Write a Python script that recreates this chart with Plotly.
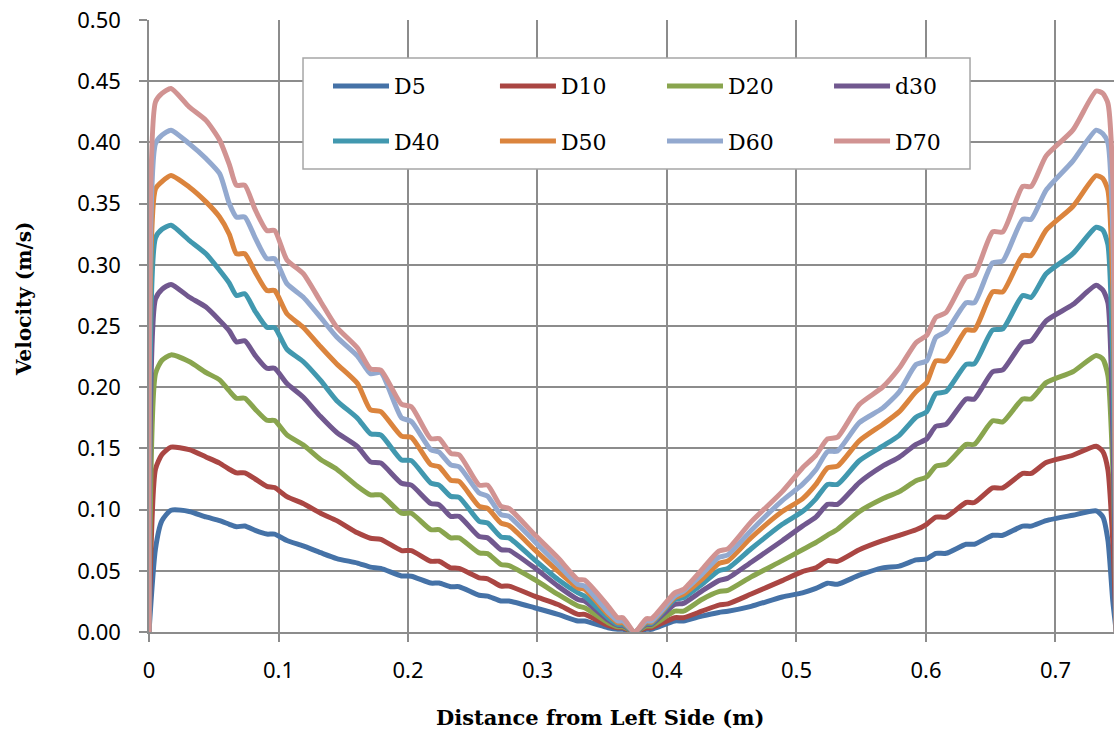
import plotly.graph_objects as go

# Distance from the left wall (m)
x_pos = [0, 0.005, 0.010, 0.017, 0.031, 0.044, 0.0545, 0.062, 0.0675, 0.074, 0.082, 0.091, 0.097,
         0.1065, 0.119, 0.1325, 0.145, 0.161, 0.171, 0.179, 0.195, 0.2026, 0.2176, 0.224, 0.233,
         0.2395, 0.255, 0.2615, 0.2718, 0.278, 0.2977, 0.3158, 0.3313, 0.3364, 0.3545, 0.362,
         0.366, 0.375, 0.384, 0.388, 0.406, 0.4127, 0.4269, 0.44, 0.447, 0.465, 0.489, 0.5046,
         0.515, 0.524, 0.5317, 0.5485, 0.5665, 0.5794, 0.5923, 0.6005, 0.6077, 0.6155, 0.631,
         0.6374, 0.6515, 0.6593, 0.6747, 0.6812, 0.6928, 0.7134, 0.7314, 0.7366, 0.7405, 0.7443,
         0.747]

# Velocity profiles (m/s)
d5 = [0, 0.068, 0.091, 0.0995, 0.0985, 0.094, 0.091, 0.088, 0.086, 0.0866, 0.083, 0.080, 0.080,
      0.0747, 0.0703, 0.0648, 0.060, 0.0563, 0.053, 0.052, 0.0458, 0.0456, 0.040, 0.040, 0.037,
      0.037, 0.030, 0.0293, 0.0253, 0.0253, 0.0198, 0.0144, 0.009, 0.009, 0.0035, 0.0022,
      0.0022, 0, 0.0022, 0.0022, 0.009, 0.009, 0.013, 0.016, 0.017, 0.021, 0.0286, 0.032,
      0.0356, 0.0399, 0.039, 0.0464, 0.0524, 0.0538, 0.0589, 0.0598, 0.0643, 0.0643, 0.0717,
      0.0717, 0.079, 0.079, 0.0865, 0.0865, 0.091, 0.0954, 0.099, 0.094, 0.075, 0.025, 0]
d10 = [0, 0.133, 0.145, 0.151, 0.149, 0.143, 0.138, 0.133, 0.130, 0.130, 0.125, 0.119, 0.118,
       0.1106, 0.105, 0.097, 0.091, 0.081, 0.0766, 0.0757, 0.0665, 0.0665, 0.0578, 0.0578,
       0.0524, 0.052, 0.0443, 0.0435, 0.0375, 0.0375, 0.0293, 0.0225, 0.0144, 0.0144, 0.0054,
       0.0035, 0.0035, 0, 0.0035, 0.0035, 0.0117, 0.0117, 0.017, 0.022, 0.023, 0.031, 0.042,
       0.0494, 0.0524, 0.0583, 0.0577, 0.0672, 0.0746, 0.079, 0.0835, 0.088, 0.0939, 0.0939,
       0.1058, 0.1058, 0.1177, 0.1177, 0.1295, 0.1295, 0.1384, 0.1444, 0.1518, 0.1473, 0.1325,
       0.0731, 0]
d20 = [0, 0.211, 0.222, 0.2264, 0.221, 0.212, 0.206, 0.197, 0.191, 0.191, 0.182, 0.173, 0.1727,
       0.161, 0.153, 0.141, 0.133, 0.119, 0.112, 0.112, 0.097, 0.097, 0.0836, 0.0836, 0.0769,
       0.0769, 0.0646, 0.064, 0.0551, 0.0543, 0.0429, 0.0307, 0.0212, 0.0198, 0.0076, 0.0043,
       0.0043, 0, 0.0049, 0.0049, 0.0171, 0.017, 0.0266, 0.033, 0.034, 0.045, 0.0583, 0.0672,
       0.0731, 0.0791, 0.084, 0.0984, 0.1088, 0.1147, 0.1236, 0.1266, 0.1355, 0.137, 0.1533,
       0.1533, 0.1726, 0.1717, 0.1904, 0.1904, 0.2037, 0.2126, 0.226, 0.223, 0.2096, 0.1325, 0]
d30 = [0, 0.272, 0.280, 0.284, 0.2737, 0.2655, 0.2546, 0.246, 0.237, 0.238, 0.226, 0.2155, 0.2155,
       0.203, 0.192, 0.176, 0.163, 0.1515, 0.139, 0.138, 0.1215, 0.120, 0.105, 0.104, 0.0945,
       0.0945, 0.078, 0.0769, 0.0673, 0.0668, 0.0524, 0.0375, 0.0266, 0.0253, 0.0098, 0.0054,
       0.0054, 0, 0.0062, 0.0062, 0.0225, 0.0234, 0.0334, 0.042, 0.044, 0.057, 0.0746, 0.0865,
       0.0939, 0.1043, 0.1043, 0.1221, 0.1355, 0.1429, 0.1533, 0.1577, 0.1681, 0.1696, 0.1904,
       0.1904, 0.2126, 0.2141, 0.2364, 0.2378, 0.2542, 0.2675, 0.2832, 0.2794, 0.269, 0.162, 0]
d40 = [0, 0.322, 0.329, 0.3323, 0.320, 0.309, 0.2955, 0.285, 0.275, 0.2764, 0.262, 0.249, 0.2486,
       0.231, 0.221, 0.2055, 0.189, 0.1747, 0.162, 0.161, 0.1406, 0.140, 0.1217, 0.120, 0.1108,
       0.110, 0.0904, 0.089, 0.0777, 0.0769, 0.059, 0.0429, 0.032, 0.0293, 0.0117, 0.0062,
       0.0062, 0, 0.007, 0.007, 0.0266, 0.028, 0.0388, 0.050, 0.052, 0.068, 0.088, 0.0984,
       0.1088, 0.1206, 0.1206, 0.1399, 0.1518, 0.1607, 0.1755, 0.18, 0.1948, 0.1963, 0.2186,
       0.2192, 0.2467, 0.2476, 0.2749, 0.2734, 0.2927, 0.3091, 0.3307, 0.3283, 0.3165, 0.2215, 0]
d50 = [0, 0.362, 0.368, 0.373, 0.3636, 0.3514, 0.339, 0.325, 0.309, 0.309, 0.294, 0.279, 0.279,
       0.260, 0.249, 0.233, 0.219, 0.203, 0.1815, 0.180, 0.160, 0.159, 0.1366, 0.135, 0.124,
       0.123, 0.1027, 0.101, 0.089, 0.087, 0.0673, 0.0497, 0.036, 0.0348, 0.0144, 0.0076,
       0.0076, 0, 0.0081, 0.0081, 0.028, 0.0307, 0.0429, 0.056, 0.058, 0.077, 0.0984, 0.1088,
       0.1206, 0.134, 0.1355, 0.1562, 0.1696, 0.18, 0.1963, 0.2037, 0.2215, 0.2215, 0.2467,
       0.2467, 0.2779, 0.2779, 0.3076, 0.3076, 0.3283, 0.3476, 0.3728, 0.3705, 0.361, 0.281, 0]
d60 = [0, 0.399, 0.406, 0.410, 0.399, 0.3868, 0.3745, 0.350, 0.339, 0.339, 0.322, 0.305, 0.305,
       0.2846, 0.2737, 0.257, 0.241, 0.2255, 0.211, 0.212, 0.175, 0.172, 0.149, 0.147, 0.1366,
       0.135, 0.1135, 0.111, 0.0959, 0.0945, 0.074, 0.055, 0.0388, 0.0375, 0.0163, 0.009, 0.009,
       0, 0.009, 0.009, 0.0293, 0.0334, 0.047, 0.061, 0.063, 0.083, 0.1073, 0.1206, 0.1325,
       0.1473, 0.1479, 0.171, 0.1829, 0.1963, 0.2185, 0.2215, 0.2408, 0.2453, 0.269, 0.269,
       0.3016, 0.3031, 0.3372, 0.3372, 0.361, 0.3847, 0.41, 0.407, 0.3996, 0.3254, 0]
d70 = [0, 0.433, 0.440, 0.444, 0.429, 0.418, 0.402, 0.382, 0.365, 0.365, 0.345, 0.328, 0.328,
       0.304, 0.293, 0.270, 0.249, 0.232, 0.215, 0.214, 0.186, 0.184, 0.158, 0.158, 0.146,
       0.1448, 0.120, 0.120, 0.1027, 0.101, 0.0796, 0.0606, 0.0429, 0.0424, 0.0212, 0.0117,
       0.0117, 0, 0.0109, 0.0109, 0.032, 0.0348, 0.051, 0.066, 0.068, 0.090, 0.1147, 0.134,
       0.1444, 0.1577, 0.1592, 0.1859, 0.200, 0.2156, 0.2364, 0.2423, 0.2571, 0.261, 0.2898,
       0.292, 0.3269, 0.3269, 0.364, 0.364, 0.389, 0.410, 0.442, 0.440, 0.432, 0.37, 0]

series_names = ["D5", "D10", "D20", "d30", "D40", "D50", "D60", "D70"]
series_values = [d5, d10, d20, d30, d40, d50, d60, d70]
series_colors = ["#4572A7", "#AA4643", "#89A54E", "#71588F",
                 "#4198AF", "#DB843D", "#93A9CF", "#D19392"]

x_ticks = [0, 0.1, 0.2, 0.3, 0.4, 0.5, 0.6, 0.7]
x_tick_text = ["0", "0.1", "0.2", "0.3", "0.4", "0.5", "0.6", "0.7"]

GRID = "#8c8c8c"
SERIF = "DejaVu Serif"
SANS = "Noto Sans"

# legend grid: four columns, two rows (paper coordinates)
legend_cols = [0.1855, 0.3585, 0.5316, 0.7047]
legend_rows = [0.892, 0.802]

fig = go.Figure()
legend_layout = {}
for i, (name, vals, col) in enumerate(zip(series_names, series_values, series_colors)):
    key = "legend" if i == 0 else f"legend{i + 1}"
    fig.add_trace(go.Scatter(
        x=x_pos, y=vals, name=name, mode="lines",
        line=dict(color=col, width=5, shape="spline", smoothing=0.6),
        legend=key,
    ))
    legend_layout[key] = dict(
        x=legend_cols[i % 4], y=legend_rows[i // 4],
        xanchor="left", yanchor="middle", itemwidth=56,
        font=dict(family=SERIF, size=22, color="black"),
        bgcolor="rgba(0,0,0,0)", borderwidth=0,
    )

fig.update_layout(
    width=1114, height=733,
    margin=dict(l=149, r=0, t=20, b=101),
    paper_bgcolor="white", plot_bgcolor="white",
    showlegend=True,
    xaxis=dict(
        range=[0, 0.7452], tickvals=x_ticks, ticktext=x_tick_text,
        showgrid=True, gridcolor=GRID, gridwidth=1.5,
        showline=True, linecolor=GRID, linewidth=1.5,
        ticks="outside", ticklen=8, tickcolor=GRID, tickwidth=1.5,
        tickfont=dict(family=SANS, size=22, color="black"),
        ticklabelstandoff=10, zeroline=False,
    ),
    yaxis=dict(
        range=[0, 0.5], dtick=0.05, tick0=0, tickformat=".2f",
        showgrid=True, gridcolor=GRID, gridwidth=1.5,
        showline=True, linecolor=GRID, linewidth=1.5,
        ticks="outside", ticklen=8, tickcolor=GRID, tickwidth=1.5,
        tickfont=dict(family=SANS, size=22, color="black"),
        ticklabelstandoff=14, zeroline=False,
    ),
    shapes=[dict(
        type="rect", xref="paper", yref="paper",
        x0=0.1596, x1=0.8508, y0=0.7565, y1=0.9379,
        line=dict(color="#a6a6a6", width=1.5), fillcolor="white", layer="above",
    )],
    annotations=[
        dict(text="<b>Distance from Left Side (m)</b>", xref="paper", yref="paper",
             x=0.4674, y=-0.1389, xanchor="center", yanchor="middle", showarrow=False,
             font=dict(family=SERIF, size=21, color="black")),
        dict(text="<b>Velocity (m/s)</b>", xref="paper", yref="paper",
             x=-0.1295, y=0.544, xanchor="center", yanchor="middle", showarrow=False,
             textangle=-90, font=dict(family=SERIF, size=20, color="black")),
    ],
    **legend_layout,
)

fig.write_html("out.html")
